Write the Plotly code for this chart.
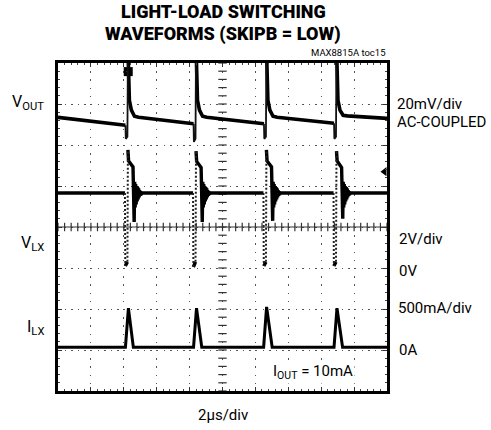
import plotly.graph_objects as go

# ---------------- data ----------------
# time in microseconds (2 us/div, 10 div)
# output ripple (AC-coupled, mV): slow parts; None separates the fast dips
VOUT_T = [0.00, 4.10, None, 4.25, 4.29, 4.34, 4.46, 4.65, 4.90,
          8.24, None, 8.39, 8.43, 8.48, 8.60, 8.79, 9.04,
          12.52, None, 12.67, 12.71, 12.76, 12.88, 13.07, 13.32,
          16.78, None, 16.93, 16.97, 17.02, 17.14, 17.33, 17.58, 20.00]
VOUT_MV = [0.5, -3.4, None, 35.0, 12.0, 8.8, 4.0, 1.0, 0.5,
           -2.6, None, 35.0, 12.0, 8.8, 4.0, 1.0, 0.5,
           -2.6, None, 35.0, 12.0, 8.8, 4.0, 1.0, 0.5,
           -2.4, None, 35.0, 12.0, 8.8, 4.0, 1.5, 1.2, 0.0]
# fast dips of the output just before each charge pulse
VOUT_DIP_T = [4.10, 4.12, 4.22, 4.25, None,
              8.24, 8.26, 8.36, 8.39, None,
              12.52, 12.54, 12.64, 12.67, None,
              16.78, 16.80, 16.90, 16.93]
VOUT_DIP_MV = [-3.4, -10.0, -9.0, 35.0, None,
               -2.6, -11.5, -10.0, 35.0, None,
               -2.6, -10.0, -9.0, 35.0, None,
               -2.4, -10.0, -9.0, 35.0]

# switching node: slow (sampled densely) parts; None separates the fast edges
VLX_T = [0.00, 4.07, None, 4.09, 4.22, None,
         4.25, 4.29, 4.56, 4.63, 4.66, 4.69, 4.72, 4.75, 4.78, 4.81,
         4.84, 4.87, 4.90, 4.93, 4.96, 4.99, 5.02, 5.05, 5.10,
         8.21, None, 8.23, 8.36, None,
         8.39, 8.43, 8.70, 8.77, 8.80, 8.83, 8.86, 8.89, 8.92, 8.95,
         8.98, 9.01, 9.04, 9.07, 9.10, 9.13, 9.16, 9.19, 9.24,
         12.49, None, 12.51, 12.64, None,
         12.67, 12.71, 12.98, 13.05, 13.08, 13.11, 13.14, 13.17, 13.20, 13.23,
         13.26, 13.29, 13.32, 13.35, 13.38, 13.41, 13.44, 13.47, 13.52,
         16.75, None, 16.77, 16.90, None,
         16.93, 16.97, 17.24, 17.31, 17.34, 17.37, 17.40, 17.43, 17.46, 17.49,
         17.52, 17.55, 17.58, 17.61, 17.64, 17.67, 17.70, 17.73, 17.78,
         20.00]
# switching node voltage, V
VLX_V = [3.66, 3.66, None, 0.10, 0.30, None,
         5.76, 5.22, 4.93, 2.24, 4.20, 2.95, 4.10, 3.10, 4.00, 3.25,
         3.95, 3.35, 3.88, 3.45, 3.80, 3.52, 3.74, 3.58, 3.66,
         3.66, None, 0.05, 0.30, None,
         5.70, 5.20, 4.90, 2.24, 4.20, 2.95, 4.10, 3.10, 4.00, 3.25,
         3.95, 3.35, 3.88, 3.45, 3.80, 3.52, 3.74, 3.58, 3.66,
         3.66, None, 0.10, 0.30, None,
         5.76, 5.22, 4.93, 2.30, 4.20, 2.95, 4.10, 3.10, 4.00, 3.25,
         3.95, 3.35, 3.88, 3.45, 3.80, 3.52, 3.74, 3.58, 3.66,
         3.66, None, 0.10, 0.30, None,
         5.70, 5.22, 4.90, 2.40, 4.20, 2.95, 4.10, 3.10, 4.00, 3.25,
         3.95, 3.35, 3.88, 3.45, 3.80, 3.52, 3.74, 3.58, 3.66,
         3.66]

# fast edges of the switching node (few samples -> dotted on the scope)
VLX_EDGE_T = [4.07, 4.09, None, 4.22, 4.25, None,
              8.21, 8.23, None, 8.36, 8.39, None,
              12.49, 12.51, None, 12.64, 12.67, None,
              16.75, 16.77, None, 16.90, 16.93]
VLX_EDGE_V = [3.66, 0.10, None, 0.30, 5.76, None,
              3.66, 0.05, None, 0.30, 5.70, None,
              3.66, 0.10, None, 0.30, 5.76, None,
              3.66, 0.10, None, 0.30, 5.70]

ILX_T = [0.00, 4.10, 4.28, 4.58, 8.24, 8.42, 8.74, 12.50, 12.68, 13.02,
         16.78, 16.96, 17.30, 20.00]
# inductor current, mA
ILX_MA = [0, 0, 476, 0, 0, 476, 0, 0, 490, 0, 0, 476, 0, 0]

# scope markers (trigger marker at top, channel marker at right edge)
TRIG_T, TRIG_DIV = [4.27], [3.79]
CHMARK_T, CHMARK_DIV = [19.85], [1.35]

# channel scales
T_PER_DIV = 2.0          # us/div
N_XDIV, N_YDIV = 10, 8
VOUT_PER_DIV, VOUT_ZERO_DIV = 20.0, 2.65     # mV/div, screen position of 0 mV
VLX_PER_DIV, VLX_ZERO_DIV = 2.0, -1.0        # V/div
ILX_PER_DIV, ILX_ZERO_DIV = 500.0, -2.93     # mA/div

TITLE_1 = "LIGHT-LOAD SWITCHING"
TITLE_2 = "WAVEFORMS (SKIPB = LOW)"
TOC = "MAX8815A toc15"

FONT = "Roboto, Liberation Sans, sans-serif"


def chan_range(per_div, zero_div):
    return [(-N_YDIV / 2 - zero_div) * per_div, (N_YDIV / 2 - zero_div) * per_div]


fig = go.Figure()

fig.add_trace(go.Scatter(x=VOUT_T, y=VOUT_MV, yaxis="y2", mode="lines",
                         line=dict(color="black", width=3.6), hoverinfo="skip",
                         connectgaps=False))
fig.add_trace(go.Scatter(x=VOUT_DIP_T, y=VOUT_DIP_MV, yaxis="y2", mode="lines",
                         line=dict(color="#111", width=1.8), hoverinfo="skip",
                         connectgaps=False))
fig.add_trace(go.Scatter(x=VLX_T, y=VLX_V, yaxis="y3", mode="lines",
                         line=dict(color="black", width=3.4), hoverinfo="skip",
                         connectgaps=False))
fig.add_trace(go.Scatter(x=VLX_EDGE_T, y=VLX_EDGE_V, yaxis="y3", mode="lines",
                         line=dict(color="#222", width=2, dash="2px,2px"), hoverinfo="skip",
                         connectgaps=False))
fig.add_trace(go.Scatter(x=ILX_T, y=ILX_MA, yaxis="y4", mode="lines",
                         line=dict(color="black", width=3.0), hoverinfo="skip"))

# center cross with fine ticks
xt = [i * T_PER_DIV / 5 for i in range(N_XDIV * 5 + 1)]
yt = [i / 5 - N_YDIV / 2 for i in range(N_YDIV * 5 + 1)]
fig.add_trace(go.Scatter(x=xt, y=[0] * len(xt), mode="markers",
                         marker=dict(symbol="line-ns", size=6,
                                     line=dict(color="#333", width=1.2)),
                         hoverinfo="skip"))
fig.add_trace(go.Scatter(x=[N_XDIV * T_PER_DIV / 2] * len(yt), y=yt, mode="markers",
                         marker=dict(symbol="line-ew", size=6,
                                     line=dict(color="#333", width=1.2)),
                         hoverinfo="skip"))

fig.add_trace(go.Scatter(x=TRIG_T, y=TRIG_DIV, mode="markers",
                         marker=dict(symbol="square", size=9, color="black"),
                         cliponaxis=False, hoverinfo="skip"))
fig.add_trace(go.Scatter(x=TRIG_T, y=TRIG_DIV, mode="markers",
                         marker=dict(symbol="circle", size=3, color="white"),
                         cliponaxis=False, hoverinfo="skip"))
fig.add_trace(go.Scatter(x=CHMARK_T, y=CHMARK_DIV, mode="markers",
                         marker=dict(symbol="triangle-left", size=8, color="black"),
                         cliponaxis=False, hoverinfo="skip"))

fig.add_shape(type="line", xref="x", yref="y", x0=0, x1=N_XDIV * T_PER_DIV, y0=0, y1=0,
              line=dict(color="#333", width=1))

xmax = N_XDIV * T_PER_DIV
fig.update_layout(
    width=491, height=430,
    margin=dict(l=58, r=104, t=63, b=39),
    paper_bgcolor="white", plot_bgcolor="white",
    showlegend=False,
    font=dict(family=FONT, color="black", size=15),
    xaxis=dict(range=[0, xmax], dtick=T_PER_DIV, tick0=0, showticklabels=False,
               showgrid=True, gridcolor="#555", gridwidth=1.4, griddash="1.4px,6.8px",
               zeroline=False, showline=True, linecolor="black", linewidth=3, mirror="ticks",
               ticks="inside", ticklen=4, tickcolor="#333", tickwidth=1,
               minor=dict(dtick=T_PER_DIV / 5, ticks="inside", ticklen=2, tickcolor="#444",
                          showgrid=False)),
    yaxis=dict(range=[-N_YDIV / 2, N_YDIV / 2], dtick=1, tick0=0, showticklabels=False,
               showgrid=True, gridcolor="#555", gridwidth=1.4, griddash="1.4px,5.2px",
               zeroline=False, showline=True, linecolor="black", linewidth=3, mirror="ticks",
               ticks="inside", ticklen=4, tickcolor="#333", tickwidth=1,
               minor=dict(dtick=0.2, ticks="inside", ticklen=2, tickcolor="#444",
                          showgrid=False)),
    yaxis2=dict(overlaying="y", range=chan_range(VOUT_PER_DIV, VOUT_ZERO_DIV), visible=False),
    yaxis3=dict(overlaying="y", range=chan_range(VLX_PER_DIV, VLX_ZERO_DIV), visible=False),
    yaxis4=dict(overlaying="y", range=chan_range(ILX_PER_DIV, ILX_ZERO_DIV), visible=False),
)

PL, PR, PT, PB = 58, 387, 63, 391


def px(x):
    return (x - PL) / (PR - PL)


def py(y):
    return (PB - y) / (PB - PT)


def note(text, x, y, xanchor="left", size=15, weight="normal", bg=None):
    fig.add_annotation(text=text, xref="paper", yref="paper",
                       x=px(x), y=py(y), xanchor=xanchor, yanchor="middle",
                       showarrow=False, font=dict(size=size, weight=weight),
                       bgcolor=bg, borderpad=1)


note(TITLE_1, 223, 11, "center", 18, 900)
note(TITLE_2, 223, 34, "center", 18, 900)
note(TOC, 388, 53, "right", 9.5)

note("V<sub>OUT</sub>", 46, 102, "right", 16)
note("V<sub>LX</sub>", 46, 244, "right", 16)
note("I<sub>LX</sub>", 46, 327, "right", 16)

note("20mV/div", 395, 104)
note("AC-COUPLED", 395, 122)
note("2V/div", 397, 239)
note("0V", 397, 271)
note("500mA/div", 396, 308)
note("0A", 397, 350)

note("I<sub>OUT</sub> = 10mA", 271, 372, "left", 15, bg="white")
note("2µs/div", 223, 415, "center", 15)

fig.write_html("out.html", post_script="document.body.style.margin='0';",
               config={"displayModeBar": False})
